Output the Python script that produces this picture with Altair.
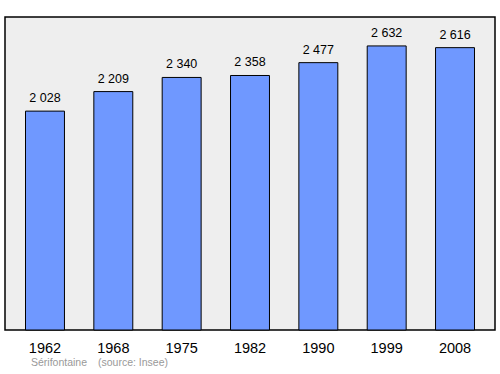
import altair as alt
import pandas as pd

years = ["1962", "1968", "1975", "1982", "1990", "1999", "2008"]
population = [2028, 2209, 2340, 2358, 2477, 2632, 2616]
labels = [f"{v:,}".replace(",", " ") for v in population]

commune = ["Sérifontaine"]
source = ["(source: Insee)"]

df = pd.DataFrame({"year": years, "pop": population, "label": labels})

FONT = "Liberation Sans"

x = alt.X("year:N", sort=None,
          scale=alt.Scale(paddingInner=0.43, paddingOuter=0.3),
          axis=alt.Axis(title=None, labelAngle=0, ticks=False, domain=False,
                        labelFontSize=14.5, labelFont=FONT, labelColor="#000000",
                        labelPadding=11))
y = alt.Y("pop:Q", scale=alt.Scale(domain=[0, 2900], nice=False),
          axis=None)

bars = alt.Chart(df).mark_bar(color="#6f98ff", stroke="#000000",
                              strokeWidth=1).encode(x=x, y=y)

text = alt.Chart(df).mark_text(font=FONT, fontSize=12.5, color="#000000",
                               baseline="alphabetic", dy=-9).encode(
    x=x, y=y, text="label:N")

src1 = alt.Chart(pd.DataFrame({"t": commune})).mark_text(
    font=FONT, fontSize=10.5, color="#999999", align="left",
    baseline="middle").encode(x=alt.value(26), y=alt.value(346), text="t:N")
src2 = alt.Chart(pd.DataFrame({"t": source})).mark_text(
    font=FONT, fontSize=10.5, color="#999999", align="left",
    baseline="middle").encode(x=alt.value(93), y=alt.value(346), text="t:N")

chart = alt.layer(bars, text, src1, src2).properties(
    width=490, height=313,
    autosize=alt.AutoSizeParams(type="none"),
    padding={"left": 5, "top": 17, "right": 5, "bottom": 44},
    background="#ffffff",
).configure_view(fill="#eeeeee", stroke="#000000", strokeWidth=1.5)

chart.save("out.html", embed_options={"renderer": "svg", "actions": False})
